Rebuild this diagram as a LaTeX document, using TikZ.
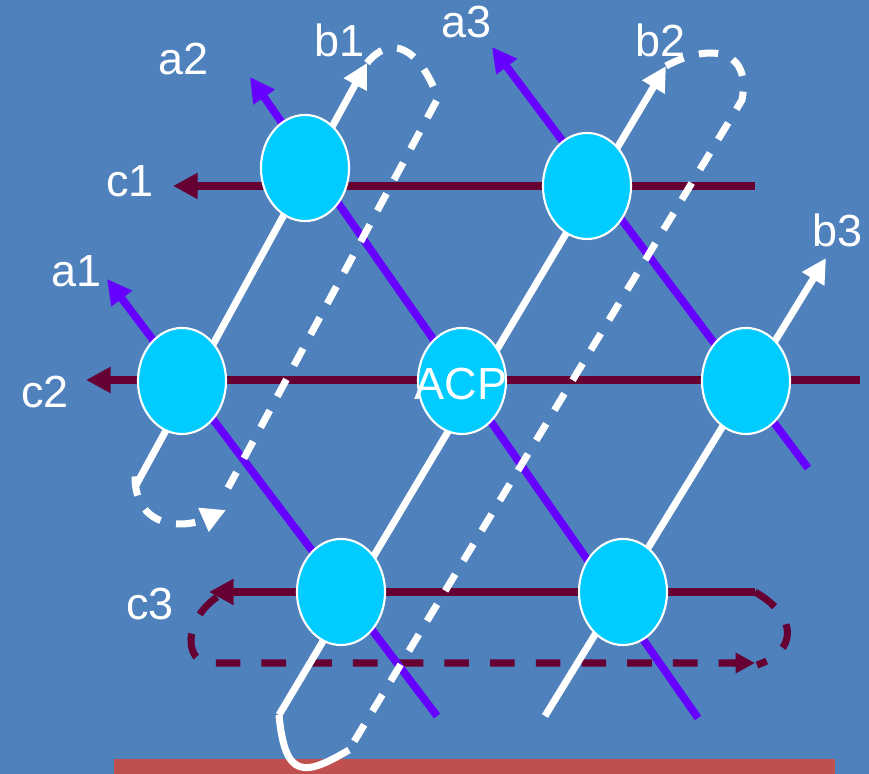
\documentclass[tikz,border=0pt]{standalone}
\usepackage{fontspec}
\setmainfont{Liberation Sans}
\usetikzlibrary{arrows.meta, shapes.geometric}

\definecolor{slidebg}{HTML}{4F81BD}
\definecolor{barred}{HTML}{C0504D}
\definecolor{siteblue}{HTML}{00CCFF}
\definecolor{aviolet}{HTML}{6600FF}
\definecolor{cmaroon}{HTML}{660033}

\begin{document}
\begin{tikzpicture}[
      x=0.01cm, y=-0.01cm,
      site/.style={ellipse, draw=white, line width=0.6pt, fill=siteblue,
                   minimum width=0.88cm, minimum height=1.06cm, inner sep=0pt},
      lbl/.style={text=white, font=\fontsize{12.8}{14}\selectfont,
                  anchor=base, inner sep=0pt},
      headed/.style={-{Triangle[length=7pt, width=7pt]}},
      aline/.style={draw=aviolet, line width=2.2pt},
      bline/.style={draw=white, line width=2pt},
      cline/.style={draw=cmaroon, line width=2.5pt},
      bdash/.style={bline, dash pattern=on 5.5pt off 4.5pt},
      cdash/.style={cline, line width=2pt, dash pattern=on 7pt off 6pt}
  ]
      \useasboundingbox (0,0) rectangle (869,774);
      \fill[slidebg] (0,0) rectangle (869,774);
      \fill[barred] (114,759) rectangle (835,774);

      % ends of the lines
      \coordinate (a1s) at (437,716); \coordinate (a1t) at (107,279);
      \coordinate (a2s) at (698,718); \coordinate (a2t) at (250,77);
      \coordinate (a3s) at (808,468); \coordinate (a3t) at (492,47);
      \coordinate (b1s) at (135,487); \coordinate (b1t) at (367,63);
      \coordinate (b2s) at (279,715); \coordinate (b2t) at (666,66);
      \coordinate (b3s) at (545,716); \coordinate (b3t) at (826,258);
      \coordinate (c1s) at (755,186); \coordinate (c1t) at (173,186);
      \coordinate (c2s) at (860,380); \coordinate (c2t) at (86,380);
      \coordinate (c3s) at (755,592); \coordinate (c3t) at (209,592);

      % return paths
      \coordinate (b1k) at (438,98);  \coordinate (b1r) at (228,488);
      \coordinate (b1l) at (226,510);
      \coordinate (b2k) at (742,100); \coordinate (b2r) at (349,750);
      \coordinate (c3r) at (755,663); \coordinate (c3l) at (210,663);

      \draw[cline, headed] (c1s) -- (c1t);
      \draw[cline, headed] (c2s) -- (c2t);
      \draw[cline, headed] (c3s) -- (c3t);
      \draw[cdash, -{Triangle[length=5.5pt, width=5.5pt]}]
          ([shift={(8,5)}]c3t) .. controls (182,622) and (185,663) .. (c3l)
          -- (c3r);
      \draw[cdash] (c3s) .. controls (800,618) and (796,652) .. ([shift={(2,2)}]c3r);

      \draw[aline, headed] (a1s) -- (a1t);
      \draw[aline, headed] (a2s) -- (a2t);
      \draw[aline, headed] (a3s) -- (a3t);

      \draw[bline, headed] (b1s) -- (b1t);
      \draw[bline, headed] (b2s) -- (b2t);
      \draw[bline, headed] (b3s) -- (b3t);
      \draw[bline] (b2s) .. controls (285,780) and (305,776) .. (b2r);

      \draw[bdash] (b1t) .. controls (390,35) and (418,45) .. (b1k) -- (b1r);
      \draw[bdash, headed] ([yshift=3]b1s) .. controls (135,530) and (185,528) .. (b1l);
      \draw[bdash] (b2t) .. controls (705,45) and (752,45) .. (b2k) -- (b2r);

      \node[site] (n1)  at (305,168) {};
      \node[site] (n2)  at (587,186) {};
      \node[site] (n3)  at (182,381) {};
      \node[site] (acp) at (462,381) {};
      \node[site] (n4)  at (746,381) {};
      \node[site] (n5)  at (341,592) {};
      \node[site] (n6)  at (623,592) {};

      \node[lbl] (lacp) at (461,400) {ACP};
      \node[lbl] (la1) at (77,287) {a1};
      \node[lbl] (la2) at (184,75) {a2};
      \node[lbl] (la3) at (467,38) {a3};
      \node[lbl] (lb1) at (340,57) {b1};
      \node[lbl] (lb2) at (661,57) {b2};
      \node[lbl] (lb3) at (838,247) {b3};
      \node[lbl] (lc1) at (130,197) {c1};
      \node[lbl] (lc2) at (45,408) {c2};
      \node[lbl] (lc3) at (150,620) {c3};
  \end{tikzpicture}
\end{document}
